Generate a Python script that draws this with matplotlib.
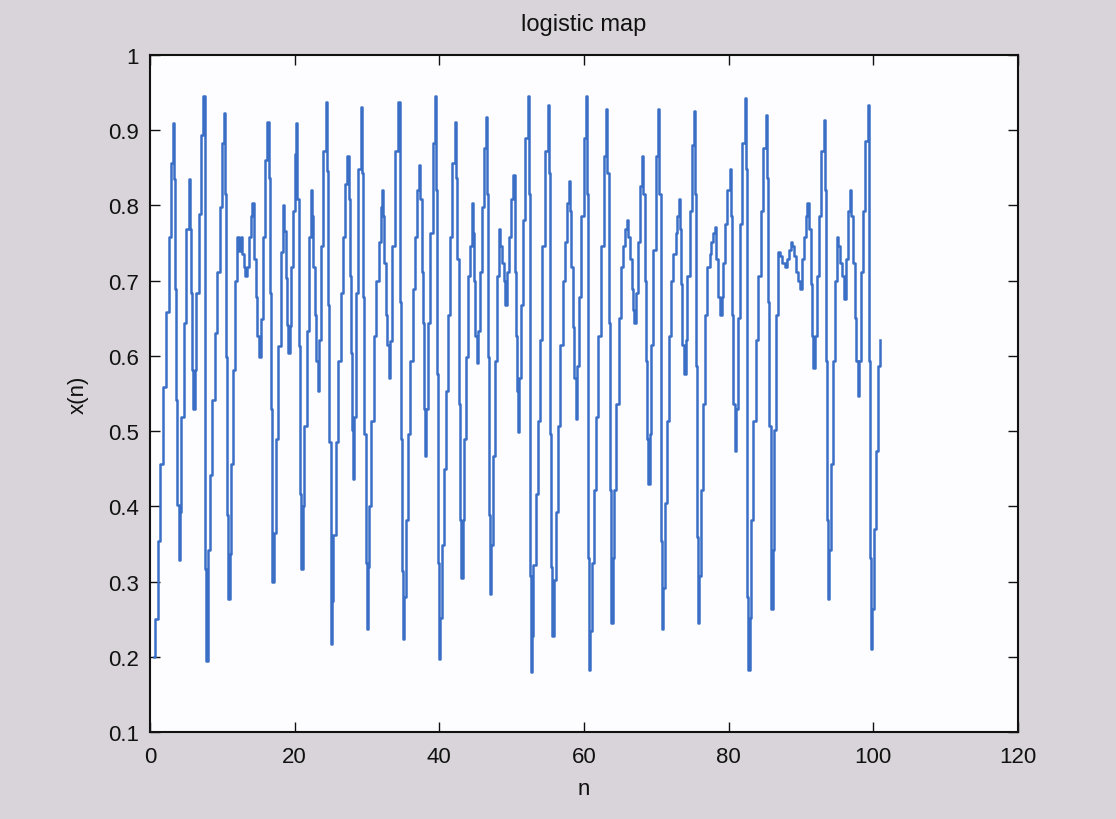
import numpy as np
import matplotlib
matplotlib.use("Agg")
import matplotlib.pyplot as plt

plt.rcParams['font.family'] = ['Liberation Sans', 'DejaVu Sans']

# ---- data (n where each level starts, x(n) level) ----
n1 = [0.55, 0.74, 1.11, 1.43, 1.80, 2.26, 2.58, 2.86, 3.18, 3.32, 3.41, 3.64, 3.78, 3.96, 4.19, 4.33,
      4.65, 5.02, 5.35, 5.48, 5.62, 5.81, 5.99, 6.18, 6.41, 6.73, 7.00, 7.33, 7.56, 7.65, 7.79, 8.02,
      8.25, 8.57, 8.94, 9.31, 9.63, 9.95, 10.23, 10.41, 10.55, 10.69, 10.78, 11.01, 11.15, 11.47, 11.80,
      12.07, 12.26, 12.53, 12.72, 12.95, 13.18, 13.46, 13.64, 13.92, 14.10, 14.38, 14.65, 14.84, 15.02,
      15.30, 15.58, 15.85, 16.13, 16.41, 16.59, 16.77, 16.87]
x1 = [0.20, 0.25, 0.354, 0.456, 0.559, 0.658, 0.758, 0.857, 0.909, 0.835, 0.689, 0.541, 0.402, 0.328,
      0.393, 0.519, 0.644, 0.769, 0.835, 0.769, 0.684, 0.581, 0.530, 0.581, 0.684, 0.789, 0.894, 0.945,
      0.820, 0.317, 0.194, 0.342, 0.442, 0.541, 0.630, 0.712, 0.798, 0.883, 0.923, 0.815, 0.598, 0.388,
      0.277, 0.336, 0.456, 0.581, 0.700, 0.758, 0.740, 0.758, 0.735, 0.718, 0.706, 0.718, 0.758, 0.786,
      0.803, 0.729, 0.678, 0.627, 0.598, 0.649, 0.758, 0.860, 0.911, 0.837, 0.684, 0.530, 0.300]

n2 = [17.13, 17.36, 17.68, 18.05, 18.37, 18.51, 18.74, 18.88, 19.06, 19.29, 19.52, 19.75, 19.98, 20.17,
      20.35, 20.58, 20.72, 20.91, 21.09, 21.27, 21.64, 21.97, 22.29, 22.43, 22.56, 22.75, 22.98, 23.16,
      23.35, 23.58, 23.90, 24.27, 24.50, 24.64, 24.78, 24.97, 25.05, 25.19, 25.33, 25.65, 25.98, 26.34,
      26.67, 26.94, 27.27, 27.45, 27.59, 27.73, 27.91, 28.05, 28.18, 28.51, 28.74, 29.11, 29.29, 29.43,
      29.61, 29.80, 29.94, 30.12, 30.30, 30.49, 30.95, 31.27, 31.60, 31.87, 32.06, 32.24, 32.38, 32.61,
      32.79, 32.98, 33.16, 33.49, 33.81]
x2 = [0.365, 0.49, 0.613, 0.738, 0.80, 0.766, 0.704, 0.641, 0.604, 0.64, 0.718, 0.792, 0.869, 0.909,
      0.809, 0.613, 0.416, 0.317, 0.40, 0.507, 0.633, 0.758, 0.82, 0.786, 0.718, 0.655, 0.593, 0.553,
      0.621, 0.746, 0.872, 0.937, 0.846, 0.667, 0.485, 0.308, 0.217, 0.274, 0.362, 0.485, 0.593, 0.684,
      0.758, 0.829, 0.866, 0.809, 0.706, 0.604, 0.502, 0.436, 0.519, 0.684, 0.849, 0.931, 0.843, 0.678,
      0.496, 0.325, 0.237, 0.32, 0.40, 0.513, 0.627, 0.70, 0.752, 0.798, 0.82, 0.786, 0.724, 0.655,
      0.615, 0.57, 0.62, 0.746, 0.872]

n3 = [34.22, 34.50, 34.59, 34.73, 34.87, 34.96, 35.15, 35.33, 35.61, 35.98, 36.30, 36.62, 36.90, 37.22,
      37.36, 37.59, 37.73, 37.91, 38.05, 38.19, 38.42, 38.74, 39.11, 39.43, 39.57, 39.66, 39.80, 39.89,
      40.12, 40.31, 40.58, 40.91, 41.18, 41.51, 41.78, 42.10, 42.24, 42.43, 42.66, 42.89, 43.03, 43.21,
      43.44, 43.72, 43.95, 44.27, 44.50, 44.64, 44.82, 44.96, 45.15, 45.33, 45.56, 45.84, 46.11, 46.44,
      46.57, 46.76, 46.89, 46.99, 47.17, 47.36, 47.63, 47.96, 48.23, 48.42, 48.60, 48.88, 49.11, 49.34,
      49.66, 49.89, 50.17]
x3 = [0.937, 0.849, 0.672, 0.49, 0.314, 0.223, 0.28, 0.382, 0.496, 0.593, 0.689, 0.758, 0.82, 0.854,
      0.809, 0.712, 0.644, 0.53, 0.467, 0.53, 0.644, 0.763, 0.883, 0.946, 0.82, 0.576, 0.325, 0.197,
      0.251, 0.348, 0.45, 0.553, 0.655, 0.758, 0.857, 0.911, 0.837, 0.729, 0.536, 0.382, 0.305, 0.382,
      0.49, 0.598, 0.706, 0.746, 0.803, 0.763, 0.70, 0.627, 0.59, 0.633, 0.712, 0.798, 0.877, 0.917,
      0.815, 0.598, 0.388, 0.283, 0.348, 0.467, 0.593, 0.706, 0.769, 0.746, 0.724, 0.70, 0.667, 0.712,
      0.758, 0.809, 0.84]

n4 = [50.49, 50.58, 50.72, 50.91, 51.04, 51.27, 51.55, 51.83, 52.20, 52.43, 52.47, 52.52, 52.61, 52.80,
      52.98, 53.30, 53.58, 53.90, 54.22, 54.59, 54.96, 55.15, 55.33, 55.42, 55.61, 55.79, 56.07, 56.34,
      56.71, 57.04, 57.36, 57.59, 57.86, 58.05, 58.23, 58.42, 58.65, 58.83, 59.02, 59.34, 59.62, 59.94,
      60.26, 60.40, 60.49, 60.58, 60.68, 60.86, 61.09, 61.32, 61.64, 61.97, 62.33, 62.70, 63.03, 63.21,
      63.39, 63.53, 63.67, 63.76, 63.95, 64.18, 64.45, 64.78, 65.10, 65.38, 65.65, 65.93, 66.11, 66.34,
      66.57, 66.76, 66.94, 67.17, 67.40]
x4 = [0.712, 0.627, 0.553, 0.499, 0.57, 0.667, 0.78, 0.889, 0.946, 0.815, 0.57, 0.308, 0.18, 0.228,
      0.322, 0.416, 0.513, 0.621, 0.746, 0.872, 0.934, 0.843, 0.496, 0.32, 0.228, 0.302, 0.393, 0.507,
      0.615, 0.70, 0.752, 0.803, 0.832, 0.792, 0.718, 0.638, 0.57, 0.516, 0.587, 0.678, 0.786, 0.889,
      0.946, 0.815, 0.57, 0.331, 0.183, 0.234, 0.325, 0.422, 0.519, 0.627, 0.746, 0.866, 0.928, 0.843,
      0.644, 0.422, 0.331, 0.245, 0.331, 0.422, 0.536, 0.65, 0.718, 0.746, 0.769, 0.78, 0.758, 0.729,
      0.689, 0.661, 0.644, 0.684, 0.752]

n5 = [67.76, 68.03, 68.22, 68.40, 68.54, 68.77, 68.91, 69.09, 69.32, 69.60, 69.92, 70.25, 70.43, 70.61,
      70.71, 70.80, 70.98, 71.17, 71.44, 71.77, 72.09, 72.37, 72.69, 72.92, 73.15, 73.29, 73.42, 73.61,
      73.79, 74.07, 74.30, 74.62, 74.90, 75.22, 75.41, 75.54, 75.68, 75.78, 75.96, 76.14, 76.47, 76.79,
      77.07, 77.39, 77.62, 77.89, 78.08, 78.31, 78.59, 78.82, 79.05, 79.28, 79.55, 79.83, 80.15, 80.34,
      80.52, 80.66, 80.84, 81.03, 81.30, 81.58, 81.90, 82.23, 82.41, 82.50, 82.60, 82.74, 82.92, 83.15,
      83.42, 83.79, 84.12, 84.44]
x5 = [0.826, 0.866, 0.815, 0.70, 0.593, 0.49, 0.43, 0.496, 0.615, 0.741, 0.866, 0.928, 0.815, 0.582,
      0.354, 0.237, 0.291, 0.405, 0.513, 0.627, 0.70, 0.735, 0.763, 0.786, 0.809, 0.769, 0.695, 0.615,
      0.576, 0.621, 0.706, 0.792, 0.88, 0.926, 0.815, 0.587, 0.359, 0.245, 0.308, 0.422, 0.536, 0.655,
      0.718, 0.735, 0.752, 0.763, 0.772, 0.729, 0.678, 0.655, 0.678, 0.724, 0.775, 0.82, 0.849, 0.786,
      0.655, 0.536, 0.473, 0.53, 0.65, 0.775, 0.883, 0.943, 0.849, 0.473, 0.28, 0.183, 0.251, 0.382,
      0.513, 0.621, 0.706, 0.792]

n6 = [84.75, 85.11, 85.30, 85.44, 85.62, 85.81, 85.90, 86.08, 86.27, 86.54, 86.86, 87.14, 87.42, 87.79,
      88.06, 88.34, 88.57, 88.80, 89.03, 89.35, 89.63, 89.81, 90.09, 90.41, 90.64, 90.87, 91.10, 91.34,
      91.47, 91.70, 91.93, 92.16, 92.49, 92.81, 93.18, 93.36, 93.50, 93.64, 93.73, 93.92, 94.15, 94.42,
      94.70, 94.98, 95.16, 95.44, 95.71, 95.99, 96.17, 96.45, 96.73, 96.91, 97.19, 97.42, 97.65, 97.83,
      98.02, 98.29, 98.57, 98.85, 99.22, 99.35, 99.45, 99.54, 99.68, 99.86, 100.09, 100.41, 100.69,
      100.92, 100.97]
x6 = [0.877, 0.92, 0.837, 0.672, 0.507, 0.348, 0.263, 0.342, 0.502, 0.655, 0.738, 0.733, 0.724, 0.718,
      0.729, 0.741, 0.752, 0.746, 0.733, 0.712, 0.70, 0.689, 0.729, 0.758, 0.786, 0.803, 0.769, 0.695,
      0.627, 0.584, 0.627, 0.706, 0.786, 0.872, 0.914, 0.82, 0.593, 0.382, 0.277, 0.342, 0.456, 0.593,
      0.70, 0.758, 0.746, 0.724, 0.706, 0.675, 0.729, 0.792, 0.82, 0.786, 0.724, 0.65, 0.593, 0.547,
      0.593, 0.712, 0.792, 0.886, 0.934, 0.815, 0.593, 0.331, 0.211, 0.263, 0.37, 0.473, 0.587, 0.621,
      0.621]

x_ticks = [0, 20, 40, 60, 80, 100, 120]
y_ticks = [0.1, 0.2, 0.3, 0.4, 0.5, 0.6, 0.7, 0.8, 0.9, 1.0]
y_tick_labels = ['0.1', '0.2', '0.3', '0.4', '0.5', '0.6', '0.7', '0.8', '0.9', '1']

n_all = np.concatenate([n1, n2, n3, n4, n5, n6])
x_all = np.concatenate([x1, x2, x3, x4, x5, x6])

W, H = 1116, 820
fig = plt.figure(figsize=(W / 100, H / 100), dpi=100)
fig.patch.set_facecolor('#d8d4d9')
ax = fig.add_axes([150 / W, 1 - 733 / H, 868 / W, 677 / H])
ax.set_facecolor('#fdfdff')

ax.plot(n_all, x_all, drawstyle='steps-post', color='#3b6fc6', lw=1.8)

ax.set_xlim(0, 120)
ax.set_ylim(0.1, 1.0)
ax.set_xticks(x_ticks)
ax.set_xticklabels([str(t) for t in x_ticks])
ax.set_yticks(y_ticks)
ax.set_yticklabels(y_tick_labels)
ax.tick_params(direction='in', length=7, width=1.0, top=True, right=True,
               labelsize=16, colors='#111111')
ax.tick_params(axis='x', pad=10)
ax.tick_params(axis='y', pad=8)
for s in ax.spines.values():
    s.set_linewidth(1.5)
    s.set_color('#111111')

ax.set_title('logistic map', fontsize=17, pad=18, color='#111111')
ax.set_xlabel('n', fontsize=16, labelpad=8, color='#111111')
ax.set_ylabel('x(n)', fontsize=16, labelpad=14, color='#111111')

fig.savefig('out.png', dpi=100, facecolor=fig.get_facecolor())
